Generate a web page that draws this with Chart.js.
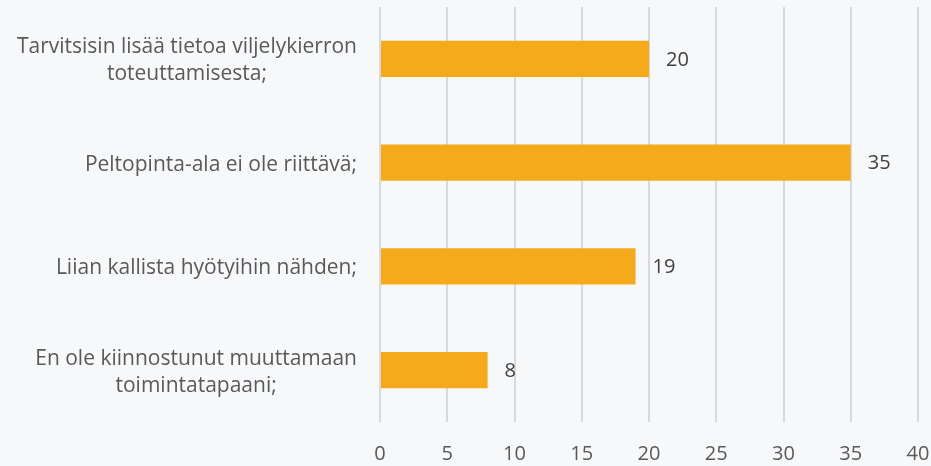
<!DOCTYPE html>
<html><head><meta charset="utf-8">
<script src="https://cdn.jsdelivr.net/npm/chart.js@4.4.1/dist/chart.umd.min.js"></script>
<style>html,body{margin:0;padding:0;background:#F7F8FA;}#wrap{width:931px;height:466px;}</style>
</head><body><div id="wrap"><canvas id="c" width="931" height="466"></canvas></div>
<script>
const categories = [
  ["Tarvitsisin lisää tietoa viljelykierron", "toteuttamisesta;"],
  ["Peltopinta-ala ei ole riittävä;"],
  ["Liian kallista hyötyihin nähden;"],
  ["En ole kiinnostunut muuttamaan", "toimintatapaani;"]
];
const values = [20, 35, 19, 8];
const xTicks = [0, 5, 10, 15, 20, 25, 30, 35, 40];

const FONT = "'Open Sans', 'Noto Sans', sans-serif";

const labelPlugin = {
  id: 'labels',
  afterDraw(chart) {
    const ctx = chart.ctx;
    const y = chart.scales.y;
    ctx.save();
    ctx.font = "21px " + FONT;
    ctx.fillStyle = "#595959";
    ctx.textAlign = "center";
    ctx.textBaseline = "middle";
    const lh = 27;
    categories.forEach((lines, i) => {
      const cy = y.getPixelForValue(i) + 2;
      let maxW = 0;
      lines.forEach(l => { maxW = Math.max(maxW, ctx.measureText(l).width); });
      const cx = 357 - maxW / 2;
      const startY = cy - (lines.length - 1) * lh / 2;
      lines.forEach((l, j) => ctx.fillText(l, cx, startY + j * lh));
    });
    ctx.font = "20px " + FONT;
    ctx.fillStyle = "#404040";
    ctx.textAlign = "left";
    const meta = chart.getDatasetMeta(0);
    meta.data.forEach((bar, i) => {
      ctx.fillText(String(values[i]), bar.x + 17, bar.y + 1);
    });
    ctx.restore();
  }
};

new Chart(document.getElementById('c'), {
  type: 'bar',
  data: {
    labels: categories,
    datasets: [{
      data: values,
      backgroundColor: '#F5AA1C',
      borderWidth: 0,
      barPercentage: 0.35,
      categoryPercentage: 1.0
    }]
  },
  options: {
    indexAxis: 'y',
    responsive: false,
    animation: false,
    devicePixelRatio: 1,
    layout: { padding: { left: 0, right: 0, top: 7, bottom: 0 } },
    plugins: { legend: { display: false }, tooltip: { enabled: false } },
    scales: {
      x: {
        min: 0, max: 40,
        afterBuildTicks(scale) { scale.ticks = xTicks.map(v => ({ value: v })); },
        grid: { color: '#D9D9D9', lineWidth: 2, drawTicks: false },
        border: { display: false },
        ticks: { color: '#595959', font: { family: FONT, size: 20 }, padding: 20, maxRotation: 0 },
        afterFit(scale) { scale.height = 44; scale.paddingRight = 13; scale.paddingLeft = 0; }
      },
      y: {
        grid: { display: false },
        border: { display: false },
        ticks: { display: false },
        afterFit(scale) { scale.width = 380; scale.paddingTop = 0; scale.paddingBottom = 0; }
      }
    }
  },
  plugins: [labelPlugin]
});
</script>
</body></html>
